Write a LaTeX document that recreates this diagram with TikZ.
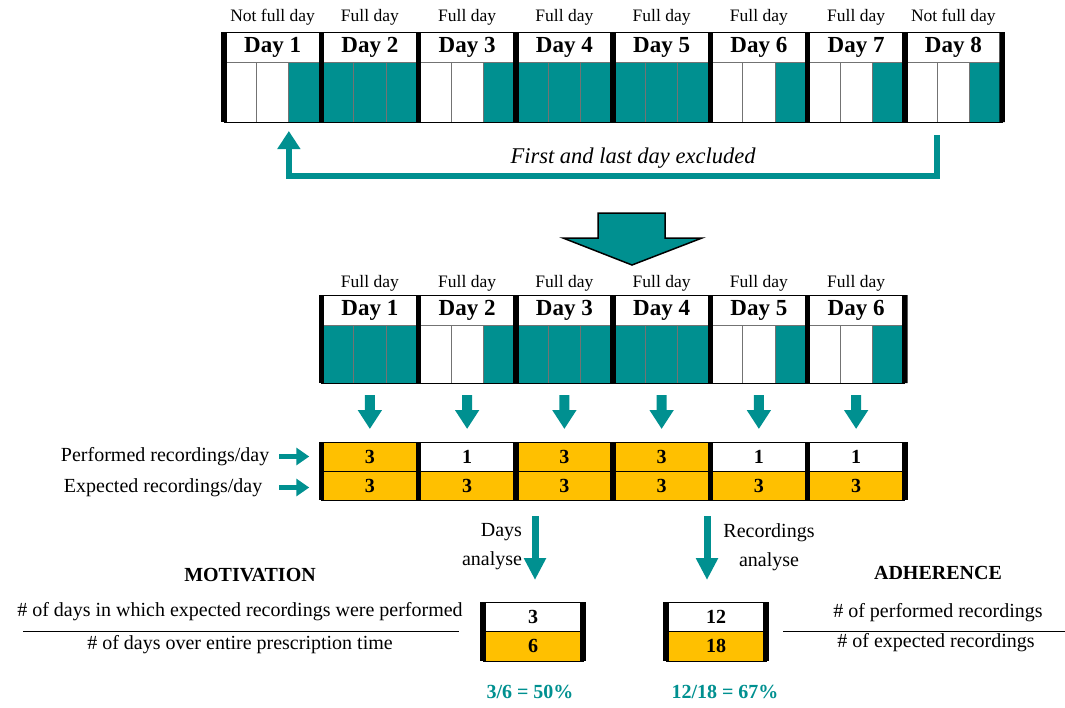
\documentclass[tikz,border=0pt]{standalone}
\usepackage{fontspec}
\setmainfont{Liberation Serif}
\usepackage{tikz}
\usetikzlibrary{arrows.meta, positioning, calc}
\definecolor{recteal}{HTML}{009090}
\definecolor{recgold}{HTML}{FFC000}

\begin{document}
\begin{tikzpicture}[
        x=1pt, y=-1pt,
        every node/.style={align=center, inner sep=0pt, outer sep=0pt},
        % ===== Geometria: 1px = 1pt, y hacia abajo =====
        % Columnas de dia: 97.25 de ancho, desde x=224
        % ============= Estilos =============
        daytag/.style={font=\fontsize{17.5}{19}\selectfont, anchor=center},
        dayhead/.style={rectangle, draw=black, line width=1pt, fill=white,
                        minimum width=97.25pt, minimum height=30pt,
                        anchor=north west, font=\fontsize{23}{25}\selectfont\bfseries},
        subcell/.style={rectangle, draw=black!55, line width=0.8pt,
                        minimum width=32.42pt, minimum height=60pt, anchor=north west},
        daybar/.style={line width=5.5pt, black},
        frame/.style={line width=1pt, black},
        valcell/.style={rectangle, draw=black, line width=0.9pt,
                        minimum width=97.25pt, minimum height=29pt, anchor=north west,
                        font=\fontsize{20}{22}\selectfont\bfseries},
        boxcell/.style={rectangle, draw=black, line width=0.9pt,
                        minimum width=100pt, minimum height=29.5pt, anchor=north west,
                        font=\fontsize{20}{22}\selectfont\bfseries},
        plain/.style={font=\fontsize{20}{29}\selectfont},
        heading/.style={font=\fontsize{20}{22}\selectfont\bfseries},
        result/.style={font=\fontsize{20}{22}\selectfont\bfseries, text=recteal},
        fracrule/.style={line width=1.1pt, black},
        brarrow/.style={recteal, line width=6pt, line join=miter,
                        -{Triangle[length=18pt,width=22pt]}},
        dayarrow/.style={recteal, line width=10pt, -{Triangle[length=19pt,width=23pt]}},
        rowarrow/.style={recteal, line width=5pt, -{Triangle[length=13pt,width=17pt]}},
        anaarrow/.style={recteal, line width=7pt, -{Triangle[length=22pt,width=21pt]}},
        bigarrow/.style={fill=recteal, draw=black, line width=1.5pt, line join=miter}
    ]
        \useasboundingbox (0,0) rectangle (1065,707);

        % ===== Registro completo: 8 dias =====
        \foreach \k/\lbl/\nw in {1/Not full day/2, 2/Full day/0, 3/Full day/2, 4/Full day/0,
                                 5/Full day/0, 6/Full day/2, 7/Full day/2, 8/Not full day/2}{
            \pgfmathsetmacro\xl{224+97.25*(\k-1)}
            \node[dayhead] (th\k) at (\xl,32) {Day \k};
            \node[daytag] (tt\k) at ([yshift=15pt]th\k.north) {\lbl};
            \foreach \j in {1,2,3}{
                \ifnum\j>\nw \def\cellfill{recteal}\else\def\cellfill{white}\fi
                \pgfmathsetmacro\xc{\xl+32.42*(\j-1)}
                \node[subcell, fill=\cellfill] (tc\k-\j) at (\xc,62) {};
            }
        }
        \draw[frame] (th1.north west) rectangle (tc8-3.south east);
        \foreach \k in {1,...,8}
            \draw[daybar] (th\k.north west) -- (tc\k-1.south west);
        \draw[daybar] (th8.north east) -- (tc8-3.south east);

        % ===== Exclusion primer y ultimo dia =====
        \node[font=\fontsize{22.5}{24}\selectfont\itshape] (excl) at (633,158)
            {First and last day excluded};
        \draw[brarrow] ([yshift=-13pt]tc8-1.south east) -- ++(0,41)
            -| ([yshift=-9pt]tc1-3.south west);

        % ===== Flecha grande =====
        \draw[bigarrow] (598,213) -- (665,213) -- (665,238) -- (702,238)
            -- (632,265) -- (563,238) -- (598,238) -- cycle;

        % ===== Registro analizado: 6 dias =====
        \foreach \k/\nw in {1/0, 2/2, 3/0, 4/0, 5/2, 6/2}{
            \pgfmathsetmacro\xl{321.25+97.25*(\k-1)}
            \node[dayhead] (bh\k) at (\xl,295) {Day \k};
            \node[daytag] (bt\k) at ([yshift=12pt]bh\k.north) {Full day};
            \foreach \j in {1,2,3}{
                \ifnum\j>\nw \def\cellfill{recteal}\else\def\cellfill{white}\fi
                \pgfmathsetmacro\xc{\xl+32.42*(\j-1)}
                \node[subcell, minimum height=58pt, fill=\cellfill] (bc\k-\j) at (\xc,325) {};
            }
        }
        \draw[frame] (bh1.north west) rectangle (bc6-3.south east);
        \foreach \k in {1,...,6}
            \draw[daybar] (bh\k.north west) -- (bc\k-1.south west);
        \draw[daybar] (bh6.north east) -- (bc6-3.south east);

        % ===== Tabla de grabaciones =====
        \foreach \k/\pv/\pc in {1/3/recgold, 2/1/white, 3/3/recgold,
                                4/3/recgold, 5/1/white, 6/1/white}{
            \pgfmathsetmacro\xl{321.25+97.25*(\k-1)}
            \node[valcell, fill=\pc] (pr\k) at (\xl,442) {\pv};
            \node[valcell, fill=recgold] (ex\k) at (\xl,471) {3};
            \draw[daybar] (pr\k.north west) -- (ex\k.south west);
            \draw[dayarrow] ([yshift=-12pt]bc\k-2.south) -- ([yshift=13pt]pr\k.north);
        }
        \draw[daybar] (pr6.north east) -- (ex6.south east);

        \node[plain, left=52pt of pr1] (tagp) {Performed recordings/day};
        \node[plain, left=59pt of ex1, yshift=-2pt] (tage) {Expected recordings/day};
        \draw[rowarrow] ([xshift=10pt]tagp.east) -- ([xshift=-12pt]tagp.east -| pr1.west);
        \draw[rowarrow] ([xshift=17pt]tage.east) -- ([xshift=-12pt]tage.east -| ex1.west);

        % ===== Motivacion =====
        \node[boxcell, fill=white] (mnum) at (483,602) {3};
        \node[boxcell, fill=recgold] (mden) at (483,631.5) {6};
        \draw[daybar] (mnum.north west) -- (mden.south west);
        \draw[daybar] (mnum.north east) -- (mden.south east);
        \draw[anaarrow] ($(mnum.north |- ex3.south)+(2,16)$) -- ($(mnum.north)+(2,-22)$);
        \node[plain, align=right, anchor=east] (mana) at ($(mnum.north)+(-11,-55)$) {Days\\analyse};
        \node[heading] (mtitle) at (250,575) {MOTIVATION};
        \node[plain] (mfn) at (240,612) {\# of days in which expected recordings were performed};
        \node[plain] (mfd) at (240,645) {\# of days over entire prescription time};
        \draw[fracrule] ($(mfn.west |- mden.north)+(6,0)$) -- ($(mfn.east |- mden.north)+(-4,0)$);
        \node[result] (mpct) at (530,692) {3/6 = 50\%};

        % ===== Adherencia =====
        \node[boxcell, fill=white] (anum) at (666,602) {12};
        \node[boxcell, fill=recgold] (aden) at (666,631.5) {18};
        \draw[daybar] (anum.north west) -- (aden.south west);
        \draw[daybar] (anum.north east) -- (aden.south east);
        \draw[anaarrow] ($(anum.north |- ex5.south)+(-9,16)$) -- ($(anum.north)+(-9,-22)$);
        \node[plain] (aana) at ($(anum.north)+(53,-55)$) {Recordings\\analyse};
        \node[heading] (atitle) at (938,573) {ADHERENCE};
        \node[plain] (afn) at (938,613) {\# of performed recordings};
        \node[plain] (afd) at (936,643) {\# of expected recordings};
        \draw[fracrule] ($(aden.east |- aden.north)+(17,0)$) -- (1065,631.5);
        \node[result] (apct) at (725,692) {12/18 = 67\%};
    \end{tikzpicture}
\end{document}
